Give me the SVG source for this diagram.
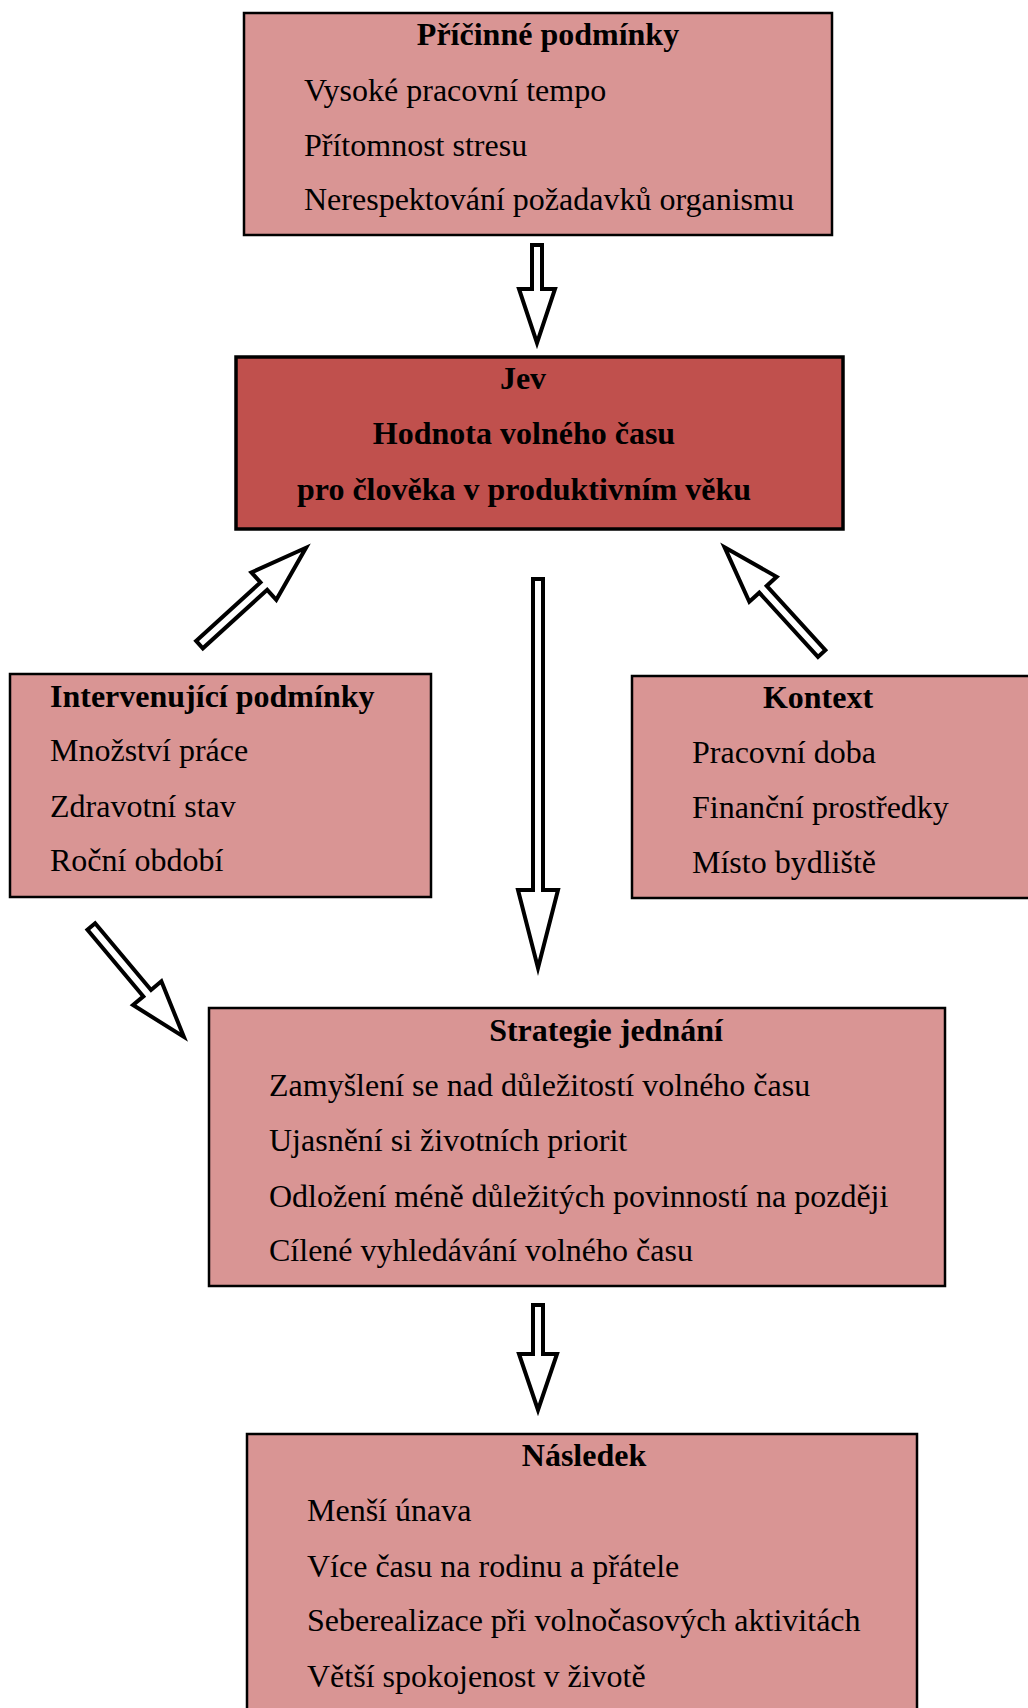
<svg xmlns="http://www.w3.org/2000/svg" width="1028" height="1708" viewBox="0 0 1028 1708">
<style>
.box{fill:#D99594;stroke:#000;stroke-width:2.5}
.dark{fill:#C0504D;stroke:#000;stroke-width:3.5}
text{font-family:"Liberation Serif","Times New Roman",serif;font-size:32px;fill:#000}
.t{font-weight:bold}
.c{text-anchor:middle}
.arr{fill:#fff;stroke:#000;stroke-width:4;stroke-linejoin:miter;stroke-miterlimit:10}
</style>
<defs>
<path id="darr" d="M2,-5 L89,-5 L89,-18.5 L146,0 L89,18.5 L89,5 L2,5 Z"/>
</defs>
<rect width="1028" height="1708" fill="#fff"/>

<g id="pricinne">
<rect class="box" x="244" y="13" width="588" height="222"/>
<text class="t c" x="548" y="45">Příčinné podmínky</text>
<text x="304" y="101">Vysoké pracovní tempo</text>
<text x="304" y="156">Přítomnost stresu</text>
<text x="304" y="210">Nerespektování požadavků organismu</text>
</g>

<g id="jev">
<rect class="dark" x="236" y="357" width="607" height="172"/>
<text class="t c" x="523" y="389">Jev</text>
<text class="t c" x="524" y="444">Hodnota volného času</text>
<text class="t c" x="524" y="500">pro člověka v produktivním věku</text>
</g>

<g id="intervenujici">
<rect class="box" x="10" y="674" width="421" height="223"/>
<text class="t" x="50" y="707">Intervenující podmínky</text>
<text x="50" y="761">Množství práce</text>
<text x="50" y="817">Zdravotní stav</text>
<text x="50" y="871">Roční období</text>
</g>

<g id="kontext">
<rect class="box" x="632" y="676" width="410" height="222"/>
<text class="t c" x="818" y="708">Kontext</text>
<text x="692" y="763">Pracovní doba</text>
<text x="692" y="818">Finanční prostředky</text>
<text x="692" y="873">Místo bydliště</text>
</g>

<g id="strategie">
<rect class="box" x="209" y="1008" width="736" height="278"/>
<text class="t c" x="606" y="1041">Strategie jednání</text>
<text x="269" y="1096">Zamyšlení se nad důležitostí volného času</text>
<text x="269" y="1151">Ujasnění si životních priorit</text>
<text x="269" y="1207">Odložení méně důležitých povinností na později</text>
<text x="269" y="1261">Cílené vyhledávání volného času</text>
</g>

<g id="nasledek">
<rect class="box" x="247" y="1434" width="670" height="290"/>
<text class="t c" x="584" y="1466">Následek</text>
<text x="307" y="1521">Menší únava</text>
<text x="307" y="1577">Více času na rodinu a přátele</text>
<text x="307" y="1631">Seberealizace při volnočasových aktivitách</text>
<text x="307" y="1687">Větší spokojenost v životě</text>
</g>

<g id="connectors">
<path class="arr" d="M532,245 L542,245 L542,289 L555,289 L537,343 L519,289 L532,289 Z"/>
<path class="arr" d="M533,579 L543,579 L543,890 L558,890 L538,968 L518,890 L533,890 Z"/>
<path class="arr" d="M533,1305 L543,1305 L543,1354 L557,1354 L538,1410 L519,1354 L533,1354 Z"/>
<use class="arr" href="#darr" transform="translate(198,646) rotate(-42.3)"/>
<use class="arr" href="#darr" transform="translate(823,655) rotate(-132.4)"/>
<use class="arr" href="#darr" transform="translate(90,925) rotate(50)"/>
</g>
</svg>
